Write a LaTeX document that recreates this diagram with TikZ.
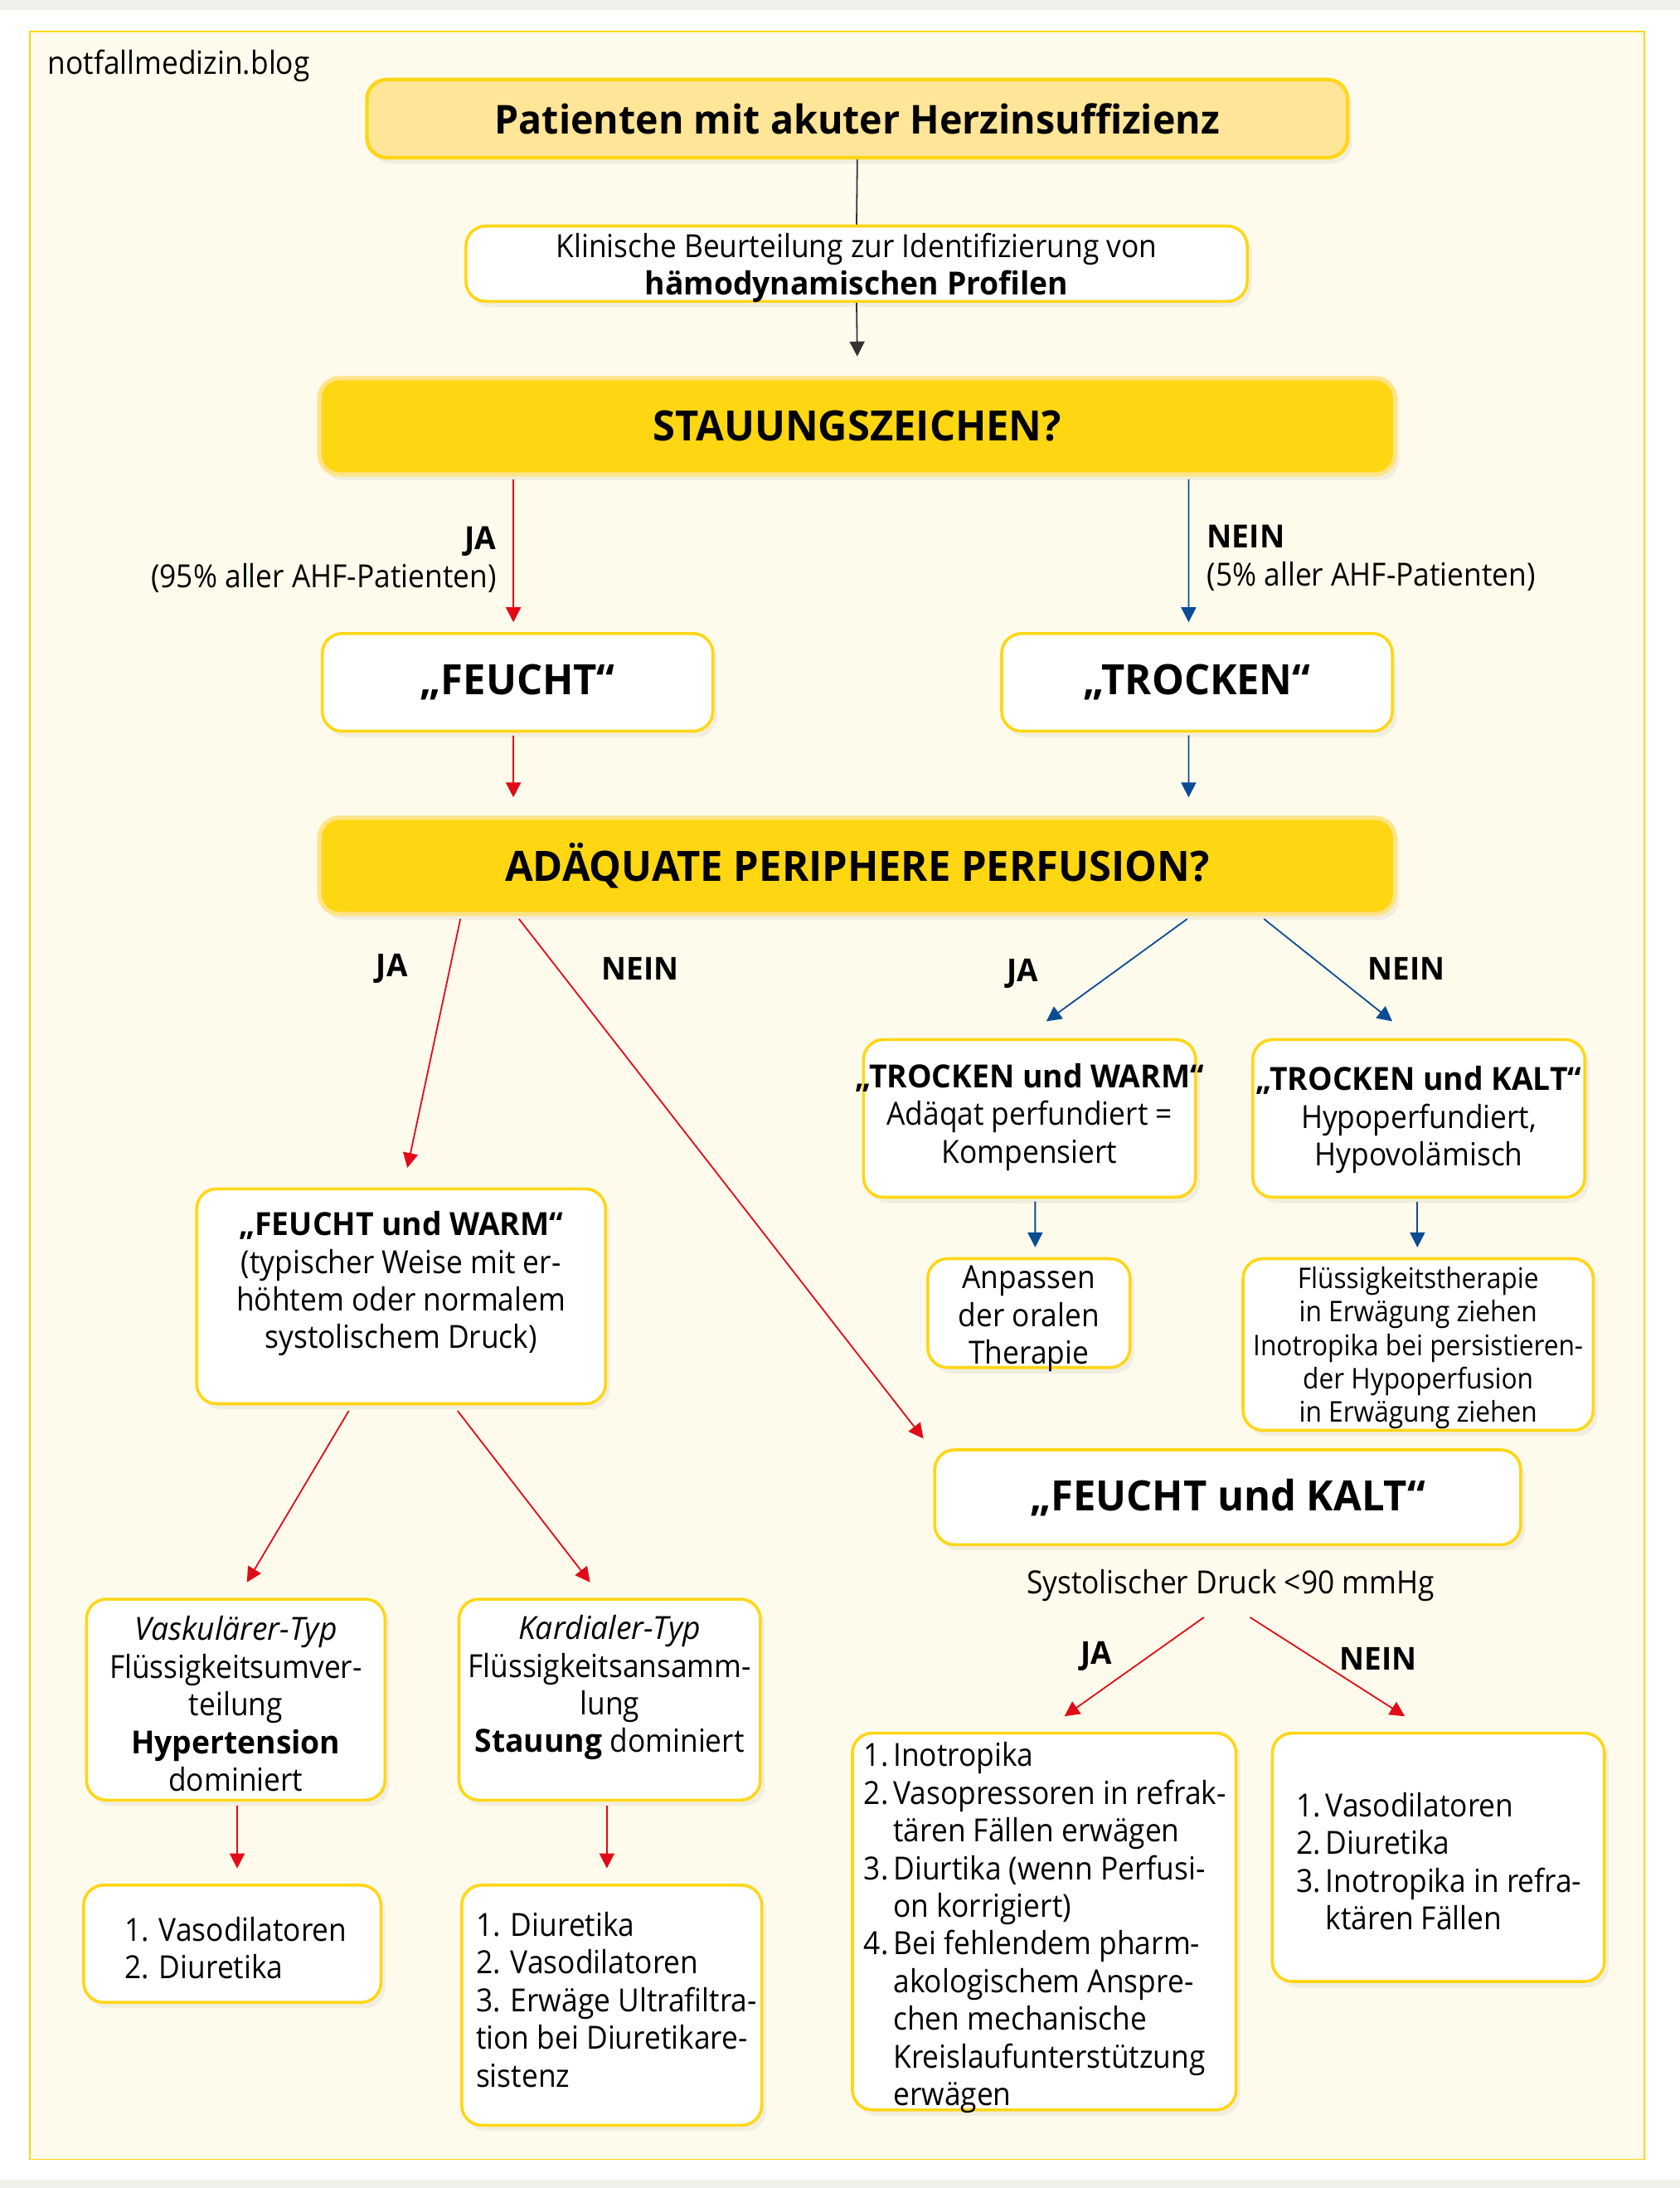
\documentclass[tikz,border=0pt]{standalone}
\usepackage{fontspec}
\setmainfont{Open Sans}[FakeStretch=0.92, BoldFeatures={FakeStretch=0.97}, ItalicFeatures={FakeStretch=0.97}]
\usetikzlibrary{arrows.meta,calc,shadows}
\def\UU{0.84135pt}
\definecolor{cream}{HTML}{FEFBEC}
\definecolor{gold}{HTML}{FFD616}
\definecolor{qfill}{HTML}{FFD612}
\definecolor{qborder}{HTML}{FFE388}
\definecolor{tfill}{HTML}{FFE597}
\definecolor{arred}{HTML}{E30A17}
\definecolor{arblue}{HTML}{0B4C94}
\definecolor{bandgrey}{HTML}{F0F0EA}
\newcommand\FBody{\fontsize{19.2}{22.7}\selectfont}
\newcommand\FSmall{\fontsize{17.2}{20.2}\selectfont}
\newcommand\FBig{\fontsize{25.2}{28}\selectfont\bfseries}
\newcommand\FTitle{\fontsize{24}{28}\selectfont\bfseries}
\newcommand\FLab{\fontsize{19}{22.7}\selectfont\bfseries}
\begin{document}
\begin{tikzpicture}[x=\UU,y=-\UU,
  sz/.style 2 args={minimum width=#1*\UU, minimum height=#2*\UU},
  wbox/.style={draw=gold, line width=1.8pt, rounded corners=12pt, fill=white,
    inner sep=0pt, align=center, font=\FBody,
    drop shadow={opacity=0.10,shadow xshift=2.5pt,shadow yshift=-3.5pt}},
  qbox/.style={wbox, fill=qfill, draw=qborder, line width=2.6pt, font=\FBig},
  tbox/.style={wbox, fill=tfill, draw=gold, line width=2.2pt, font=\FTitle},
  txt/.style={inner sep=0pt, align=center, font=\FBody},
  lab/.style={inner sep=0pt, font=\FLab},
  redarr/.style={draw=arred, line width=0.9pt, -{Triangle[length=9pt,width=9pt]}},
  bluearr/.style={draw=arblue, line width=0.9pt, -{Triangle[length=9pt,width=9pt]}},
  blkline/.style={draw=black!80, line width=0.9pt},
  blkarr/.style={blkline, -{Triangle[length=9pt,width=9pt]}}]
\useasboundingbox (0,0) rectangle (1204,1568);
\fill[white] (0,0) rectangle (1204,1568);
\fill[bandgrey] (0,0) rectangle (1204,7);
\fill[bandgrey] (0,1562) rectangle (1204,1568);
\draw[gold, line width=0.9pt, fill=cream] (21.5,22.5) rectangle (1178.5,1547.5);
\node[txt, anchor=west] (blog) at (34,47) {notfallmedizin.blog};

% boxes
\node[tbox, sz={703}{56}] (top) at (614.5,85) {Patienten mit akuter Herzinsuffizienz};
\node[wbox, sz={560}{54}] (klin) at (614,189) {};
\node[txt] (klint) at (614,192) {Klinische Beurteilung zur Identifizierung von\\\textbf{hämodynamischen Profilen}};
\node[qbox, sz={771}{69}] (stau) at (614.5,305.5) {STAUUNGSZEICHEN?};
\node[wbox, sz={280}{70}, font=\FBig] (feu) at (371,489) {„FEUCHT“};
\node[wbox, sz={280}{70}, font=\FBig] (tro) at (858,489) {„TROCKEN“};
\node[qbox, sz={771}{69}] (adq) at (614.5,620.5) {ADÄQUATE PERIPHERE PERFUSION?};

\node[wbox, sz={238}{113}] (tw) at (738,801.5) {};
\node[txt] (twt) at (738,800.5) {\textbf{„TROCKEN und WARM“}\\Adäqat perfundiert =\\Kompensiert};
\node[wbox, sz={238}{113}] (tk) at (1017,801.5) {};
\node[txt] (tkt) at (1017,802.5) {\textbf{„TROCKEN und KALT“}\\Hypoperfundiert,\\Hypovolämisch};
\node[wbox, sz={145}{78}] (anp) at (737.5,941) {};
\node[txt] (anpt) at (737.5,945) {Anpassen\\der oralen\\Therapie};
\node[wbox, sz={251}{123}] (fl) at (1016.5,963.5) {};
\node[txt, font=\FSmall] (flt) at (1016.5,966) {Flüssigkeitstherapie\\in Erwägung ziehen\\Inotropika bei persistieren-\\der Hypoperfusion\\in Erwägung ziehen};

\node[wbox, sz={293}{154}] (fw) at (287.5,929) {};
\node[txt] (fwt) at (287.5,920) {\textbf{„FEUCHT und WARM“}\\(typischer Weise mit er-\\höhtem oder normalem\\systolischem Druck)};
\node[wbox, sz={214}{144}] (vask) at (169,1218) {};
\node[txt] (vaskt) at (169,1221) {\textit{Vaskulärer-Typ}\\Flüssigkeitsumver-\\teilung\\\textbf{Hypertension}\\dominiert};
\node[wbox, sz={216}{144}] (kard) at (437,1218) {};
\node[txt] (kardt) at (437,1209.5) {\textit{Kardialer-Typ}\\Flüssigkeitsansamm-\\lung\\\textbf{Stauung} dominiert};
\node[wbox, sz={213}{84}] (l1) at (166.5,1393) {};
\node[txt, anchor=west, align=left] (l1t) at (89,1396) {1. Vasodilatoren\\2. Diuretika};
\node[wbox, sz={215}{172}] (l2) at (438.5,1437) {};
\node[txt, anchor=west, align=left] (l2t) at (341,1433) {1. Diuretika\\2. Vasodilatoren\\3. Erwäge Ultrafiltra-\\tion bei Diuretikare-\\sistenz};

\node[wbox, sz={420}{68}, font=\FBig] (fk) at (880,1073) {„FEUCHT und KALT“};
\node[txt] (sys) at (882,1136) {Systolischer Druck <90 mmHg};
\node[wbox, sz={275}{270}] (ja) at (748.5,1377) {};
\node[txt, anchor=west, align=left] (jat) at (619,1382) {\begin{tabular}{@{}l@{\hspace{3pt}}l@{}}
1. & Inotropika\\
2. & Vasopressoren in refrak-\\
 & tären Fällen erwägen\\
3. & Diurtika (wenn Perfusi-\\
 & on korrigiert)\\
4. & Bei fehlendem pharm-\\
 & akologischem Anspre-\\
 & chen mechanische\\
 & Kreislaufunterstützung\\
 & erwägen
\end{tabular}};
\node[wbox, sz={238}{178}] (nein) at (1031,1331) {};
\node[txt, anchor=west, align=left] (neint) at (929,1337) {\begin{tabular}{@{}l@{\hspace{3pt}}l@{}}
1. & Vasodilatoren\\
2. & Diuretika\\
3. & Inotropika in refra-\\
 & ktären Fällen
\end{tabular}};

% labels
\node[txt, anchor=east, align=right] (lja1) at (356,401) {\textbf{JA}\\(95\% aller AHF-Patienten)};
\node[txt, anchor=west, align=left] (lnein1) at (865,400) {\textbf{NEIN}\\(5\% aller AHF-Patienten)};
\node[lab] (lja2) at (281,694) {JA};
\node[lab] (lnein2) at (459,694) {NEIN};
\node[lab] (lja3) at (733,698) {JA};
\node[lab] (lnein3) at (1008,694) {NEIN};
\node[lab] (lja4) at (786,1187) {JA};
\node[lab] (lnein4) at (988,1189) {NEIN};

% connectors
\draw[blkline] (top.south) -- (klin.north);
\draw[blkarr] (klin.south) -- ($(stau.north)+(0,-14)$);
\draw[redarr] ($(stau.south)+(-246.5,2)$) -- ($(feu.north)+(-3,-7)$);
\draw[bluearr] ($(stau.south)+(237.5,2)$) -- ($(tro.north)+(-6,-7)$);
\draw[redarr] ($(feu.south)+(-3,2)$) -- ($(adq.north)+(-246.5,-13)$);
\draw[bluearr] ($(tro.south)+(-6,2)$) -- ($(adq.north)+(237.5,-13)$);
\draw[redarr] ($(adq.south)+(-284.5,2)$) -- ($(fw.north)+(4.5,-14)$);
\draw[redarr] ($(adq.south)+(-242.5,2)$) -- ($(fk.north west)+(-7,-7)$);
\draw[bluearr] ($(adq.south)+(236.5,2)$) -- ($(tw.north)+(12,-12)$);
\draw[bluearr] ($(adq.south)+(291.5,2)$) -- ($(tk.north)+(-19,-12)$);
\draw[bluearr] ($(tw.south)+(4,2)$) -- ($(anp.north)+(4.5,-7)$);
\draw[bluearr] ($(tk.south)+(-1,2)$) -- ($(fl.north)+(-0.5,-7)$);
\draw[redarr] ($(fw.south)+(-37.5,4)$) -- ($(vask.north)+(8,-11)$);
\draw[redarr] ($(fw.south)+(40.5,4)$) -- ($(kard.north)+(-14,-11)$);
\draw[redarr] ($(vask.south)+(1,3)$) -- ($(l1.north)+(3.5,-11)$);
\draw[redarr] ($(kard.south)+(-2,3)$) -- ($(l2.north)+(-3.5,-11)$);
\draw[redarr] ($(sys.center)+(-19,23)$) -- ($(ja.north)+(14.5,-11)$);
\draw[redarr] ($(sys.center)+(14,23)$) -- ($(nein.north)+(-24,-11)$);
\end{tikzpicture}
\end{document}
